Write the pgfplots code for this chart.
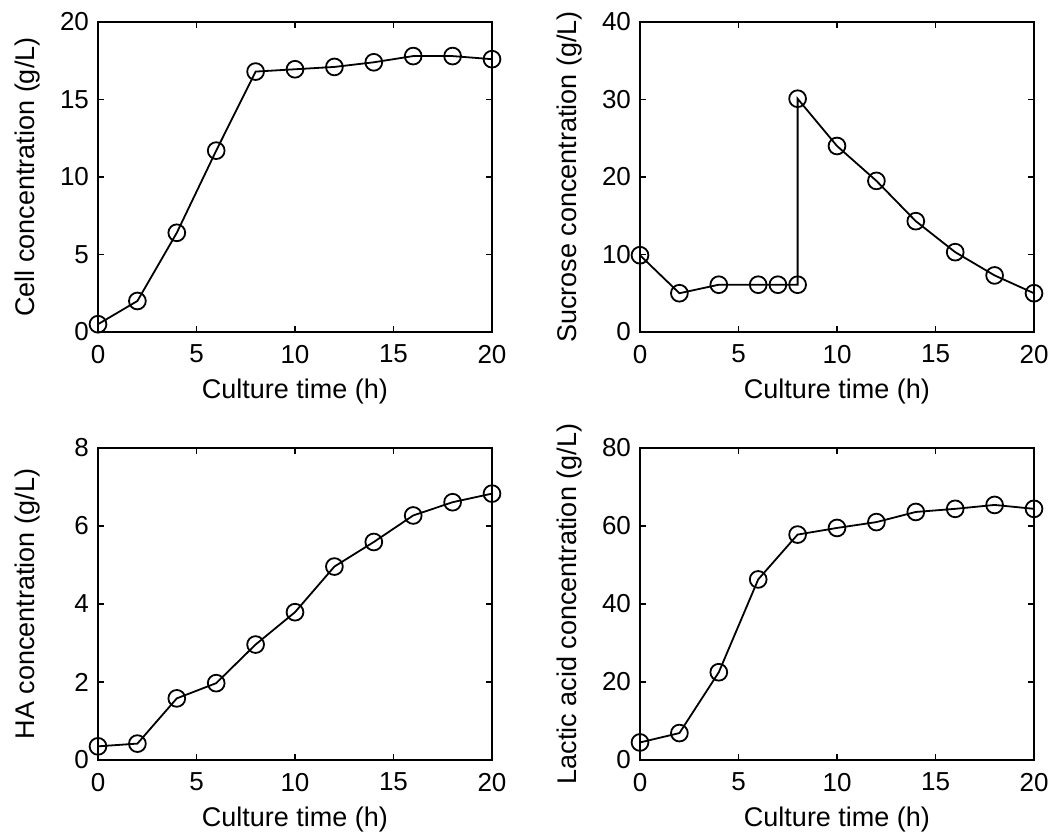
\documentclass[border=0pt]{standalone}
\usepackage{fontspec}
\setmainfont{Liberation Sans}
\usepackage{pgfplots}
\pgfplotsset{compat=1.18}
\pgfplotsset{
  mstyle/.style={
    width=197pt, height=155pt, scale only axis,
    anchor=south west,
    xmin=0, xmax=20, xtick={0,5,10,15,20},
    tick align=inside, major tick length=3pt,
    axis line style={line width=1.1pt},
    every tick/.style={line width=0.7pt, black},
    /pgf/number format/assume math mode=true,
    ticklabel style={font=\fontsize{13}{15}\selectfont},
    label style={font=\fontsize{13.5}{15}\selectfont},
    xlabel={Culture time (h)},
    xticklabel style={yshift=-3pt},
    yticklabel style={xshift=-1pt},
    xlabel style={yshift=-1pt},
    ylabel style={at={(axis description cs:-0.178,0.5)}, anchor=center},
    clip=false,
  },
  dstyle/.style={black, line width=0.9pt, mark=o, mark size=4.2pt, mark options={line width=0.9pt}},
}
\begin{document}
\begin{tikzpicture}[x=1pt,y=1pt]
\path[use as bounding box] (0,0) rectangle (527,419);
\begin{axis}[mstyle, at={(49pt,253pt)}, ymin=0, ymax=20, ytick={0,5,10,15,20},
  ylabel={Cell concentration (g/L)}]
\addplot[dstyle] coordinates {(0,0.5) (2,2.0) (4,6.4) (6,11.7) (8,16.8) (10,16.95) (12,17.1) (14,17.4) (16,17.8) (18,17.8) (20,17.6)};
\end{axis}
\begin{axis}[mstyle, at={(320pt,253pt)}, ymin=0, ymax=40, ytick={0,10,20,30,40},
  ylabel={Sucrose concentration (g/L)}]
\addplot[dstyle] coordinates {(0,9.9) (2,5.0) (4,6.1) (6,6.1) (7,6.1) (8,6.1) (8,30.1) (10,24.0) (12,19.5) (14,14.3) (16,10.3) (18,7.3) (20,5.0)};
\end{axis}
\begin{axis}[mstyle, at={(49pt,39pt)}, height=156pt, ymin=0, ymax=8, ytick={0,2,4,6,8},
  ylabel={HA concentration (g/L)}]
\addplot[dstyle] coordinates {(0,0.35) (2,0.42) (4,1.58) (6,1.97) (8,2.96) (10,3.79) (12,4.96) (14,5.59) (16,6.27) (18,6.61) (20,6.83)};
\end{axis}
\begin{axis}[mstyle, at={(320pt,39pt)}, height=156pt, ymin=0, ymax=80, ytick={0,20,40,60,80},
  ylabel={Lactic acid concentration (g/L)}]
\addplot[dstyle] coordinates {(0,4.5) (2,6.9) (4,22.5) (6,46.3) (8,57.8) (10,59.5) (12,61.0) (14,63.6) (16,64.4) (18,65.4) (20,64.4)};
\end{axis}
\end{tikzpicture}
\end{document}
